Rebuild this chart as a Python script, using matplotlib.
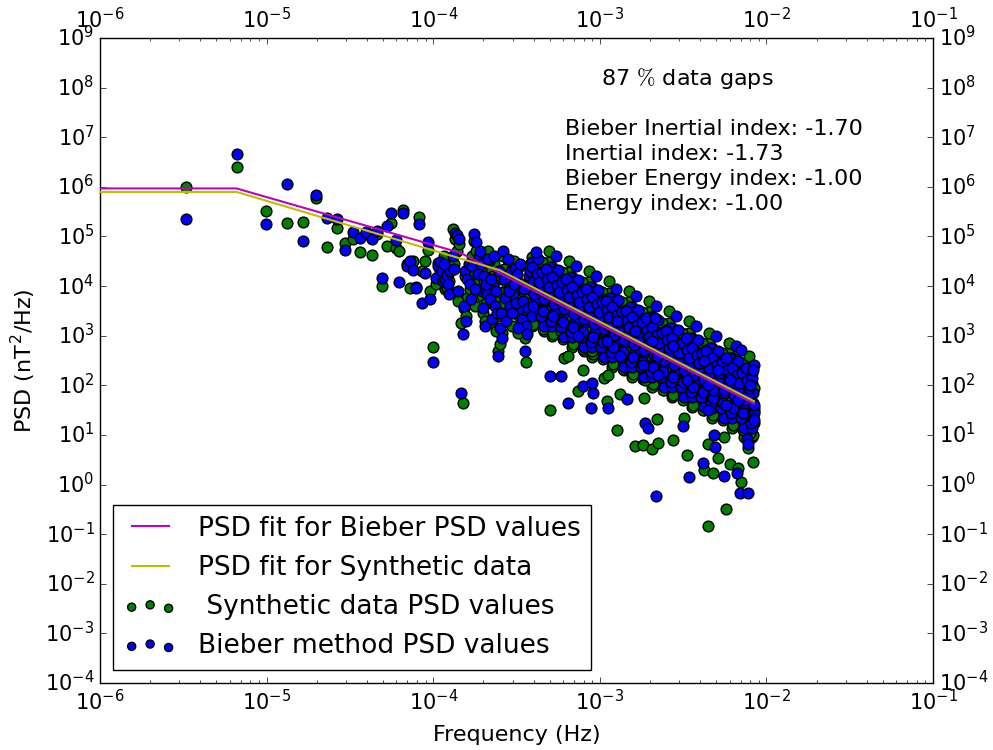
import numpy as np
import matplotlib
matplotlib.use('Agg')
import matplotlib.pyplot as plt
from matplotlib.ticker import LogLocator

# frequencies (log10 Hz), one entry per spectral bin shared by both methods
freq_log = [
    # lowest harmonics
    -5.482, -5.180, -5.004, -4.879, -4.782, -4.703, -4.636, -4.578, -4.527, -4.481,
    -4.440, -4.402, -4.368, -4.335, -4.305, -4.277, -4.251, -4.226, -4.203, -4.180,
    -4.159, -4.139, -4.120, -4.101, -4.084, -4.067, -4.050, -4.034, -4.019, -4.004,
    # 1e-4 .. 4e-4
    -3.983, -3.971, -3.959, -3.947, -3.941, -3.929, -3.917, -3.911, -3.899, -3.881,
    -3.869, -3.857, -3.845, -3.833, -3.821, -3.815, -3.809, -3.797, -3.785, -3.779,
    -3.767, -3.755, -3.743, -3.731, -3.725, -3.719, -3.707, -3.701, -3.695, -3.689,
    -3.677, -3.665, -3.659, -3.647, -3.641, -3.629, -3.617, -3.611, -3.605, -3.599,
    -3.587, -3.581, -3.569, -3.557, -3.551, -3.539, -3.533, -3.521, -3.509, -3.497,
    -3.485, -3.473, -3.467, -3.455, -3.449, -3.443, -3.437, -3.425,
    -3.935, -3.905, -3.875, -3.851, -3.803, -3.773, -3.749, -3.713, -3.683, -3.671,
    -3.653, -3.635, -3.623, -3.593, -3.575, -3.563, -3.545, -3.527, -3.515, -3.503,
    -3.491, -3.479, -3.461, -3.431, -3.419,
    # dense part
    -3.410, -3.400, -3.390, -3.405,
    -3.365, -3.377, -3.358, -3.372,
    -3.344, -3.332, -3.338, -3.325,
    -3.300, -3.318, -3.307, -3.293,
    -3.290, -3.280, -3.270, -3.285,
    -3.245, -3.257, -3.238, -3.252,
    -3.224, -3.212, -3.218, -3.205,
    -3.180, -3.198, -3.187, -3.173,
    -3.170, -3.160, -3.150, -3.165,
    -3.125, -3.137, -3.118, -3.132,
    -3.104, -3.092, -3.098, -3.085,
    -3.060, -3.078, -3.067, -3.053,
    -3.050, -3.040, -3.030, -3.045,
    -3.005, -3.017, -2.998, -3.012,
    -2.984, -2.972, -2.978, -2.965,
    -2.940, -2.958, -2.947, -2.933,
    -2.930, -2.920, -2.910, -2.925,
    -2.885, -2.897, -2.878, -2.892,
    -2.864, -2.852, -2.858, -2.845,
    -2.820, -2.838, -2.827, -2.813,
    -2.810, -2.800, -2.790, -2.805,
    -2.765, -2.777, -2.758, -2.772,
    -2.744, -2.732, -2.738, -2.725,
    -2.700, -2.718, -2.707, -2.693,
    -2.690, -2.680, -2.670, -2.685,
    -2.645, -2.657, -2.638, -2.652,
    -2.624, -2.612, -2.618, -2.605,
    -2.580, -2.598, -2.587, -2.573,
    -2.570, -2.560, -2.550, -2.565,
    -2.525, -2.537, -2.518, -2.532,
    -2.504, -2.492, -2.498, -2.485,
    -2.460, -2.478, -2.467, -2.453,
    -2.450, -2.440, -2.430, -2.445,
    -2.405, -2.417, -2.398, -2.412,
    -2.384, -2.372, -2.378, -2.365,
    -2.340, -2.358, -2.347, -2.333,
    -2.330, -2.320, -2.310, -2.325,
    -2.285, -2.297, -2.278, -2.292,
    -2.264, -2.252, -2.258, -2.245,
    -2.220, -2.238, -2.227, -2.213,
    -2.210, -2.200, -2.190, -2.205,
    -2.165, -2.177, -2.158, -2.172,
    -2.144, -2.132, -2.138, -2.125,
    -2.100, -2.118, -2.107, -2.093,
    -2.090, -2.080, -2.075, -2.085,
    # dense part, second pass
    -3.406, -3.394, -3.401, -3.386,
    -3.369, -3.379, -3.354, -3.363,
    -3.346, -3.334, -3.341, -3.326,
    -3.309, -3.319, -3.294, -3.303,
    -3.286, -3.274, -3.281, -3.266,
    -3.249, -3.259, -3.234, -3.243,
    -3.226, -3.214, -3.221, -3.206,
    -3.189, -3.199, -3.174, -3.183,
    -3.166, -3.154, -3.161, -3.146,
    -3.129, -3.139, -3.114, -3.123,
    -3.106, -3.094, -3.101, -3.086,
    -3.069, -3.079, -3.054, -3.063,
    -3.046, -3.034, -3.041, -3.026,
    -3.009, -3.019, -2.994, -3.003,
    -2.986, -2.974, -2.981, -2.966,
    -2.949, -2.959, -2.934, -2.943,
    -2.926, -2.914, -2.921, -2.906,
    -2.889, -2.899, -2.874, -2.883,
    -2.866, -2.854, -2.861, -2.846,
    -2.829, -2.839, -2.814, -2.823,
    -2.806, -2.794, -2.801, -2.786,
    -2.769, -2.779, -2.754, -2.763,
    -2.746, -2.734, -2.741, -2.726,
    -2.709, -2.719, -2.694, -2.703,
    -2.686, -2.674, -2.681, -2.666,
    -2.649, -2.659, -2.634, -2.643,
    -2.626, -2.614, -2.621, -2.606,
    -2.589, -2.599, -2.574, -2.583,
    -2.566, -2.554, -2.561, -2.546,
    -2.529, -2.539, -2.514, -2.523,
    -2.506, -2.494, -2.501, -2.486,
    -2.469, -2.479, -2.454, -2.463,
    -2.446, -2.434, -2.441, -2.426,
    -2.409, -2.419, -2.394, -2.403,
    -2.386, -2.374, -2.381, -2.366,
    -2.349, -2.359, -2.334, -2.343,
    -2.326, -2.314, -2.321, -2.306,
    -2.289, -2.299, -2.274, -2.283,
    -2.266, -2.254, -2.261, -2.246,
    -2.229, -2.239, -2.214, -2.223,
    -2.206, -2.194, -2.201, -2.186,
    -2.169, -2.179, -2.154, -2.163,
    -2.146, -2.134, -2.141, -2.126,
    -2.109, -2.119, -2.094, -2.103,
    -2.086, -2.077, -2.081, -2.075,
    # scattered low / high values
    -3.299, -3.233, -3.191, -3.131, -3.101, -3.047, -3.053, -3.041, -2.957, -2.951,
    -2.897, -2.879, -2.837, -2.789, -2.741, -2.687, -2.651, -2.729, -2.711, -2.657,
    -2.669, -2.561, -2.501, -2.477, -2.465, -2.663, -2.381, -2.375, -2.321, -2.255,
    -2.291, -2.243, -2.351, -2.219, -2.171, -2.177, -2.153, -2.159, -2.111, -2.080,
    -2.077, -2.098, -2.116, -2.315, -2.309, -2.349, -2.113,
]

# synthetic data PSD (log10 nT^2/Hz)
syn_psd_log = [
    5.99, 6.40, 5.52, 5.27, 5.29, 5.78, 4.79, 5.18, 4.86, 4.95,
    4.68, 5.05, 4.62, 5.06, 4.00, 4.81, 5.27, 4.77, 4.71, 5.53,
    4.45, 3.97, 4.51, 3.99, 5.40, 4.31, 4.50, 4.73, 3.90, 2.78,
    4.05, 4.47, 4.30, 4.20, 4.35, 3.95, 3.97, 4.25, 4.40, 5.16,
    4.95, 4.70, 4.85, 3.26, 1.64, 3.55, 4.20, 3.76, 4.30, 3.95,
    4.60, 4.90, 4.70, 4.10, 4.50, 4.55, 3.80, 3.45, 4.10, 3.30,
    4.00, 4.35, 3.85, 3.25, 4.20, 3.70, 3.40, 2.70, 4.15, 2.83,
    3.05, 4.60, 3.90, 4.05, 4.40, 3.70, 4.20, 3.50, 4.25, 4.10,
    3.40, 3.95, 3.20, 3.80, 2.95, 2.47, 3.15, 4.10,
    4.60, 4.10, 4.45, 3.70, 3.40, 4.25, 3.60, 4.35, 3.65, 4.70,
    3.95, 4.45, 3.10, 3.60, 4.35, 3.35, 3.95, 3.20, 4.50, 3.75,
    3.05, 4.40, 3.60, 3.45, 4.45,
    4.29, 3.89, 3.49, 3.19,
    4.49, 3.59, 3.29, 4.09,
    3.64, 4.34, 3.10, 3.89,
    3.89, 3.24, 4.49, 3.44,
    4.09, 3.69, 3.29, 2.99,
    4.28, 3.38, 3.08, 3.88,
    3.43, 4.13, 2.55, 3.68,
    3.68, 3.03, 4.28, 3.23,
    3.88, 3.48, 3.08, 2.78,
    4.08, 3.18, 2.88, 3.68,
    3.23, 3.93, 2.70, 3.48,
    3.48, 2.83, 4.08, 3.03,
    3.68, 3.28, 2.88, 2.58,
    3.88, 2.98, 2.68, 3.48,
    3.03, 3.73, 2.15, 3.28,
    3.27, 2.62, 3.87, 2.82,
    3.47, 3.07, 2.67, 2.37,
    3.67, 2.77, 2.47, 3.27,
    2.82, 3.52, 2.30, 3.07,
    3.07, 2.42, 3.67, 2.62,
    3.27, 2.87, 2.47, 2.17,
    3.47, 2.57, 2.27, 3.07,
    2.62, 3.32, 1.75, 2.87,
    2.87, 2.22, 3.47, 2.42,
    3.07, 2.67, 2.27, 1.97,
    3.26, 2.36, 2.06, 2.86,
    2.41, 3.11, 1.90, 2.66,
    2.66, 2.01, 3.26, 2.21,
    2.86, 2.46, 2.06, 1.76,
    3.06, 2.16, 1.86, 2.66,
    2.21, 2.91, 1.35, 2.46,
    2.46, 1.81, 3.06, 2.01,
    2.66, 2.26, 1.86, 1.56,
    2.86, 1.96, 1.66, 2.46,
    2.01, 2.71, 1.50, 2.26,
    2.25, 1.60, 2.85, 1.80,
    2.45, 2.05, 1.65, 1.35,
    2.65, 1.75, 1.45, 2.25,
    1.80, 2.50, 0.95, 2.05,
    2.05, 1.40, 2.65, 1.60,
    2.25, 1.85, 1.45, 1.15,
    2.45, 1.55, 1.25, 2.05,
    1.60, 2.30, 0.95, 1.85,
    1.85, 1.15, 2.45, 1.35,
    2.05, 1.65, 1.25, 0.95,
    4.59, 4.19, 3.24, 3.79,
    3.49, 4.44, 3.69, 4.45,
    4.49, 4.09, 3.14, 3.69,
    3.39, 4.34, 3.59, 4.70,
    4.39, 3.99, 3.04, 3.59,
    3.28, 4.23, 3.48, 4.20,
    4.28, 3.88, 2.93, 3.48,
    3.18, 4.13, 3.38, 4.50,
    4.18, 3.78, 2.83, 3.38,
    3.08, 4.03, 3.28, 4.00,
    4.08, 3.68, 2.73, 3.28,
    2.98, 3.93, 3.18, 4.30,
    3.98, 3.58, 2.63, 3.18,
    2.88, 3.83, 3.08, 3.80,
    3.88, 3.48, 2.53, 3.08,
    2.77, 3.72, 2.97, 4.10,
    3.77, 3.37, 2.42, 2.97,
    2.67, 3.62, 2.87, 3.60,
    3.67, 3.27, 2.32, 2.87,
    2.57, 3.52, 2.77, 3.90,
    3.57, 3.17, 2.22, 2.77,
    2.47, 3.42, 2.67, 3.40,
    3.47, 3.07, 2.12, 2.67,
    2.37, 3.32, 2.57, 3.70,
    3.37, 2.97, 2.02, 2.57,
    2.26, 3.21, 2.46, 3.20,
    3.26, 2.86, 1.91, 2.46,
    2.16, 3.11, 2.36, 3.50,
    3.16, 2.76, 1.81, 2.36,
    2.06, 3.01, 2.26, 3.00,
    3.06, 2.66, 1.71, 2.26,
    1.96, 2.91, 2.16, 3.30,
    2.96, 2.56, 1.61, 2.16,
    1.86, 2.81, 2.06, 2.80,
    2.86, 2.46, 1.51, 2.06,
    1.75, 2.70, 1.95, 3.05,
    2.75, 2.35, 1.40, 1.95,
    1.65, 2.60, 1.85, 2.60,
    2.65, 2.25, 1.30, 1.85,
    1.55, 2.50, 1.75, 2.85,
    2.55, 2.15, 1.20, 1.75,
    1.45, 2.40, 1.65, 2.45,
    2.45, 2.05, 1.10, 1.65,
    1.35, 2.30, 1.55, 2.60,
    2.35, 1.95, 1.00, 1.55,
    1.50, 3.10, 2.60, 1.88, 2.30, 2.70, 3.60, 3.40, 1.68, 2.20,
    1.09, 1.82, 2.50, 0.77, 0.79, 0.71, 0.83, 2.10, 3.00, 1.32,
    2.80, 0.89, 2.40, 0.59, 1.90, 2.30, 1.70, 0.29, 0.23, 2.20,
    0.53, -0.50, -0.83, 0.41, 0.33, 1.60, 0.06, 1.90, 0.73, 0.45,
    1.48, 1.03, 1.95, 1.80, 2.40, 0.81, 2.10,
]

# Bieber method PSD (log10 nT^2/Hz)
bieber_psd_log = [
    5.36, 6.67, 5.25, 6.06, 4.90, 5.83, 5.37, 5.35, 4.73, 5.10,
    4.97, 5.10, 4.95, 5.12, 4.17, 5.22, 5.47, 4.92, 4.09, 5.47,
    4.41, 4.51, 4.33, 3.96, 5.26, 3.66, 4.27, 4.88, 3.74, 2.47,
    4.17, 4.40, 4.49, 4.31, 4.10, 4.15, 4.22, 4.05, 4.31, 4.60,
    5.08, 5.02, 4.94, 1.84, 3.04, 3.60, 4.31, 4.15, 4.45, 4.05,
    4.40, 5.06, 4.88, 4.25, 4.61, 4.71, 3.90, 3.56, 4.21, 3.20,
    3.85, 4.50, 3.74, 3.34, 4.05, 3.60, 3.46, 2.59, 4.30, 3.16,
    2.95, 4.71, 3.76, 4.20, 4.55, 3.60, 4.31, 3.85, 4.37, 4.25,
    3.55, 4.05, 3.34, 3.95, 2.69, 3.20, 3.04, 4.20,
    4.45, 3.85, 4.35, 3.90, 3.30, 3.75, 3.95, 4.45, 4.05, 4.55,
    4.15, 4.60, 3.90, 3.45, 4.15, 3.30, 3.90, 3.45, 4.05, 3.65,
    3.15, 4.45, 3.70, 3.55, 4.30,
    4.49, 4.09, 3.69, 3.39,
    4.29, 3.89, 3.49, 4.54,
    4.09, 3.69, 3.19, 4.34,
    4.39, 3.74, 4.09, 3.34,
    4.29, 3.89, 3.49, 3.19,
    4.08, 3.68, 3.28, 4.33,
    3.88, 3.48, 2.98, 4.13,
    4.18, 3.53, 3.88, 3.13,
    4.08, 3.68, 3.28, 2.98,
    3.88, 3.48, 3.08, 4.13,
    3.68, 3.28, 2.78, 3.93,
    3.98, 3.33, 3.68, 2.93,
    3.88, 3.48, 3.08, 2.78,
    3.68, 3.28, 2.88, 3.93,
    3.48, 3.08, 2.58, 3.73,
    3.77, 3.12, 3.47, 2.72,
    3.67, 3.27, 2.87, 2.57,
    3.47, 3.07, 2.67, 3.72,
    3.27, 2.87, 2.37, 3.52,
    3.57, 2.92, 3.27, 2.52,
    3.47, 3.07, 2.67, 2.37,
    3.27, 2.87, 2.47, 3.52,
    3.07, 2.67, 2.17, 3.32,
    3.37, 2.72, 3.07, 2.32,
    3.27, 2.87, 2.47, 2.17,
    3.06, 2.66, 2.26, 3.31,
    2.86, 2.46, 1.96, 3.11,
    3.16, 2.51, 2.86, 2.11,
    3.06, 2.66, 2.26, 1.96,
    2.86, 2.46, 2.06, 3.11,
    2.66, 2.26, 1.76, 2.91,
    2.96, 2.31, 2.66, 1.91,
    2.86, 2.46, 2.06, 1.76,
    2.66, 2.26, 1.86, 2.91,
    2.46, 2.06, 1.56, 2.71,
    2.75, 2.10, 2.45, 1.70,
    2.65, 2.25, 1.85, 1.55,
    2.45, 2.05, 1.65, 2.70,
    2.25, 1.85, 1.35, 2.50,
    2.55, 1.90, 2.25, 1.50,
    2.45, 2.05, 1.65, 1.35,
    2.25, 1.85, 1.45, 2.50,
    2.05, 1.65, 1.15, 2.30,
    2.35, 1.70, 2.05, 1.30,
    2.25, 1.85, 1.45, 1.15,
    4.39, 3.84, 3.59, 4.69,
    3.94, 4.24, 3.39, 4.09,
    4.29, 3.74, 3.49, 4.35,
    3.84, 4.14, 3.29, 3.99,
    4.19, 3.64, 3.39, 4.60,
    3.73, 4.03, 3.18, 3.88,
    4.08, 3.53, 3.28, 4.15,
    3.63, 3.93, 3.08, 3.78,
    3.98, 3.43, 3.18, 4.40,
    3.53, 3.83, 2.98, 3.68,
    3.88, 3.33, 3.08, 3.95,
    3.43, 3.73, 2.88, 3.58,
    3.78, 3.23, 2.98, 4.20,
    3.33, 3.63, 2.78, 3.48,
    3.68, 3.13, 2.88, 3.70,
    3.22, 3.52, 2.67, 3.37,
    3.57, 3.02, 2.77, 3.95,
    3.12, 3.42, 2.57, 3.27,
    3.47, 2.92, 2.67, 3.50,
    3.02, 3.32, 2.47, 3.17,
    3.37, 2.82, 2.57, 3.80,
    2.92, 3.22, 2.37, 3.07,
    3.27, 2.72, 2.47, 3.35,
    2.82, 3.12, 2.27, 2.97,
    3.17, 2.62, 2.37, 3.60,
    2.71, 3.01, 2.16, 2.86,
    3.06, 2.51, 2.26, 3.10,
    2.61, 2.91, 2.06, 2.76,
    2.96, 2.41, 2.16, 3.40,
    2.51, 2.81, 1.96, 2.66,
    2.86, 2.31, 2.06, 2.95,
    2.41, 2.71, 1.86, 2.56,
    2.76, 2.21, 1.96, 3.20,
    2.31, 2.61, 1.76, 2.46,
    2.66, 2.11, 1.86, 2.70,
    2.20, 2.50, 1.65, 2.35,
    2.55, 2.00, 1.75, 3.00,
    2.10, 2.40, 1.55, 2.25,
    2.45, 1.90, 1.65, 2.55,
    2.00, 2.30, 1.45, 2.15,
    2.35, 1.80, 1.55, 2.80,
    1.90, 2.20, 1.35, 2.05,
    2.25, 1.70, 1.45, 2.35,
    1.80, 2.10, 1.25, 1.95,
    2.15, 1.60, 1.35, 2.40,
    2.19, 2.19, 1.64, 3.00, 1.98, 2.04, 1.54, 1.84, 2.90, 1.54,
    3.30, 2.60, 1.72, 3.10, 2.40, 2.90, 2.20, 1.24, 1.14, 2.60,
    3.36, 2.80, 1.18, 2.10, 0.16, -0.24, 0.43, 2.50, 1.90, 0.18,
    2.30, 1.60, 2.00, 2.10, 1.70, 0.23, 2.71, -0.16, -0.16, 2.31,
    1.30, 2.00, 0.91, 0.99, 0.75, 1.50, 0.81,
]

# fitted broken power laws (break frequencies and PSD at the nodes)
bieber_fit_freq = [1e-6, 6.6e-6, 1.45e-4, 8.4e-3]
bieber_fit_psd = [9.3e5, 9.3e5, 4.7e4, 43.0]
syn_fit_freq = [1e-6, 6.6e-6, 2.5e-4, 8.4e-3]
syn_fit_psd = [7.9e5, 7.9e5, 2.1e4, 48.0]

data_gaps = 87
bieber_inertial = -1.70
inertial = -1.73
bieber_energy = -1.00
energy = -1.00


def paint_psd():
    plt.style.use('classic')
    freq = 10 ** np.array(freq_log)
    syn_psd = 10 ** np.array(syn_psd_log)
    bieber_psd = 10 ** np.array(bieber_psd_log)

    fig = plt.figure(figsize=(9.93, 7.5), dpi=100, facecolor='white')
    ax = fig.add_axes([0.1007, 0.0893, 0.839, 0.86])

    # fit lines first (so they come first in the legend), drawn above the dots
    ax.plot(bieber_fit_freq, bieber_fit_psd, color='m', lw=1.5, zorder=3,
            label='PSD fit for Bieber PSD values')
    ax.plot(syn_fit_freq, syn_fit_psd, color='y', lw=1.5, zorder=3,
            label='PSD fit for Synthetic data')
    ax.scatter(freq, syn_psd, s=60, c='g', edgecolors='k', lw=1, zorder=2,
               label=' Synthetic data PSD values')
    ax.scatter(freq, bieber_psd, s=60, c='b', edgecolors='k', lw=1, zorder=2,
               label='Bieber method PSD values')

    ax.set_xscale('log')
    ax.set_yscale('log')
    ax.set_xlim(1e-6, 1e-1)
    ax.set_ylim(1e-4, 1e9)
    ax.yaxis.set_major_locator(LogLocator(base=10, numticks=20))
    ax.tick_params(labeltop=True, labelright=True, labelsize=15)

    ax.set_xlabel('Frequency (Hz)', fontsize=16, labelpad=8)
    ax.set_ylabel(r'PSD (nT$^\mathdefault{2}$/Hz)', fontsize=16)

    ax.text(0.705, 0.938, r'%d $\%%$ data gaps' % data_gaps, transform=ax.transAxes,
            ha='center', va='center', fontsize=16)
    ax.text(0.558, 0.874,
            'Bieber Inertial index: %.2f\nInertial index: %.2f\n'
            'Bieber Energy index: %.2f\nEnergy index: %.2f'
            % (bieber_inertial, inertial, bieber_energy, energy),
            transform=ax.transAxes, ha='left', va='top', fontsize=16,
            linespacing=1.3)

    ax.legend(loc='lower left', fontsize=19, markerscale=0.75)
    fig.savefig('out.png', dpi=100, facecolor='white')


def main():
    paint_psd()


if __name__ == '__main__':
    main()
